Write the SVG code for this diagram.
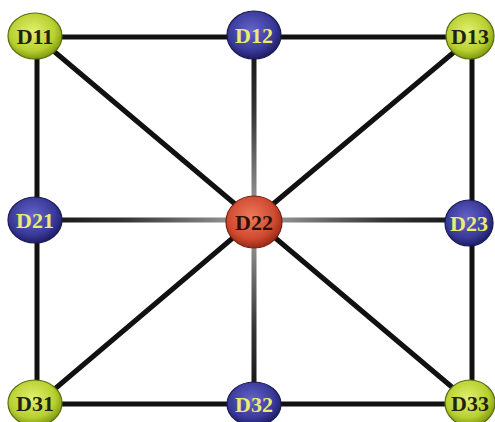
<svg xmlns="http://www.w3.org/2000/svg" width="495" height="422" viewBox="0 0 495 422">
<style>
.e{stroke:#111;stroke-width:5;stroke-linecap:round}
.n{stroke-width:1.2}
.t{font-family:"Liberation Serif",serif;font-weight:bold;font-size:22px;text-anchor:middle}
.g{fill:url(#gG);stroke:#5a6e10}
.b{fill:url(#gB);stroke:#1a1a55}
.r{fill:url(#gR);stroke:#7a2010}
.tg{fill:#1e2410}
.tb{fill:#ecec70}
.tr{fill:#2a1008}
</style>
<defs>
<radialGradient id="gG" cx="0.45" cy="0.4" r="0.6">
<stop offset="0" stop-color="#e2f070"/><stop offset="0.7" stop-color="#b8d030"/><stop offset="1" stop-color="#809a12"/>
</radialGradient>
<radialGradient id="gB" cx="0.45" cy="0.4" r="0.6">
<stop offset="0" stop-color="#6464c8"/><stop offset="0.7" stop-color="#3a3a9a"/><stop offset="1" stop-color="#1e1e66"/>
</radialGradient>
<radialGradient id="gR" cx="0.45" cy="0.4" r="0.6">
<stop offset="0" stop-color="#ee7a5c"/><stop offset="0.7" stop-color="#d04a30"/><stop offset="1" stop-color="#9a2a18"/>
</radialGradient>
<linearGradient id="lL" gradientUnits="userSpaceOnUse" x1="37" y1="0" x2="254" y2="0">
<stop offset="0" stop-color="#111"/><stop offset="0.4" stop-color="#333"/><stop offset="1" stop-color="#a8a8a8"/>
</linearGradient>
<linearGradient id="lR" gradientUnits="userSpaceOnUse" x1="472" y1="0" x2="254" y2="0">
<stop offset="0" stop-color="#111"/><stop offset="0.4" stop-color="#333"/><stop offset="1" stop-color="#a8a8a8"/>
</linearGradient>
<linearGradient id="lT" gradientUnits="userSpaceOnUse" x1="0" y1="37" x2="0" y2="220">
<stop offset="0" stop-color="#111"/><stop offset="0.4" stop-color="#333"/><stop offset="1" stop-color="#a8a8a8"/>
</linearGradient>
<linearGradient id="lB" gradientUnits="userSpaceOnUse" x1="0" y1="404" x2="0" y2="220">
<stop offset="0" stop-color="#111"/><stop offset="0.4" stop-color="#333"/><stop offset="1" stop-color="#a8a8a8"/>
</linearGradient>
</defs>
<rect width="495" height="422" fill="#fff"/>
<g id="connectors">
<line class="e" x1="37" y1="37" x2="254" y2="37"/>
<line class="e" x1="254" y1="37" x2="472" y2="37"/>
<line class="e" x1="37" y1="404" x2="254" y2="404"/>
<line class="e" x1="254" y1="404" x2="472" y2="404"/>
<line class="e" x1="37" y1="37" x2="37" y2="220"/>
<line class="e" x1="37" y1="220" x2="37" y2="404"/>
<line class="e" x1="472" y1="37" x2="472" y2="220"/>
<line class="e" x1="472" y1="220" x2="472" y2="404"/>
<line class="e" x1="37" y1="37" x2="254" y2="220"/>
<line class="e" x1="472" y1="37" x2="254" y2="220"/>
<line class="e" x1="37" y1="404" x2="254" y2="220"/>
<line class="e" x1="472" y1="404" x2="254" y2="220"/>
<line x1="37" y1="220" x2="254" y2="220" stroke="url(#lL)" stroke-width="5"/>
<line x1="472" y1="220" x2="254" y2="220" stroke="url(#lR)" stroke-width="5"/>
<line x1="254" y1="37" x2="254" y2="220" stroke="url(#lT)" stroke-width="5"/>
<line x1="254" y1="404" x2="254" y2="220" stroke="url(#lB)" stroke-width="5"/>
</g>
<g id="D11"><ellipse class="n g" cx="35" cy="36" rx="27" ry="23"/><text class="t tg" x="35" y="44">D11</text></g>
<g id="D12"><ellipse class="n b" cx="254" cy="35" rx="27" ry="24"/><text class="t tb" x="254" y="43">D12</text></g>
<g id="D13"><ellipse class="n g" cx="470" cy="36" rx="24" ry="23"/><text class="t tg" x="470" y="44">D13</text></g>
<g id="D21"><ellipse class="n b" cx="35" cy="220" rx="27" ry="23"/><text class="t tb" x="35" y="228">D21</text></g>
<g id="D22"><ellipse class="n r" cx="254" cy="222" rx="28" ry="26"/><text class="t tr" x="254" y="230">D22</text></g>
<g id="D23"><ellipse class="n b" cx="469" cy="223" rx="24" ry="23"/><text class="t tb" x="469" y="231">D23</text></g>
<g id="D31"><ellipse class="n g" cx="35" cy="403" rx="27" ry="23"/><text class="t tg" x="35" y="411">D31</text></g>
<g id="D32"><ellipse class="n b" cx="254" cy="404" rx="27" ry="22"/><text class="t tb" x="254" y="412">D32</text></g>
<g id="D33"><ellipse class="n g" cx="470" cy="403" rx="25" ry="23"/><text class="t tg" x="470" y="411">D33</text></g>
</svg>
